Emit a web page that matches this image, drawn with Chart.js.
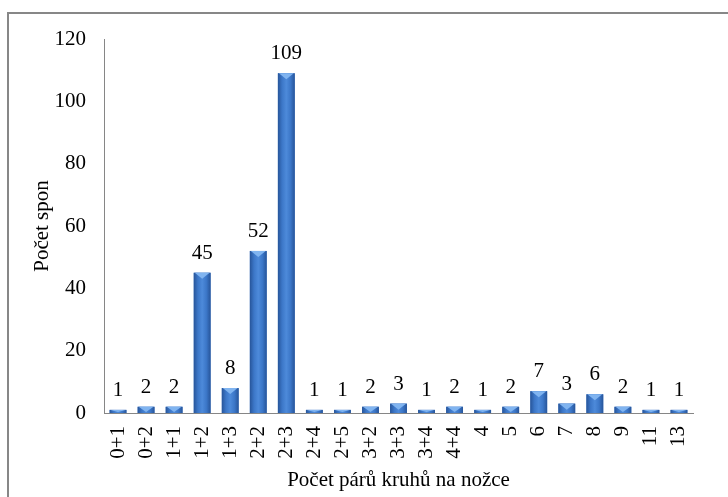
<!DOCTYPE html>
<html>
<head>
<meta charset="utf-8">
<script src="https://cdn.jsdelivr.net/npm/chart.js@4"></script>
<style>
  html, body { margin: 0; padding: 0; background: #fff; overflow: hidden; }
  #wrap { position: relative; width: 728px; height: 497px; }
  #frame {
    position: absolute; left: 7px; top: 12px; width: 800px; height: 600px;
    border: 2px solid #878787; box-sizing: border-box;
  }
  canvas { position: absolute; left: 0; top: 0; }
</style>
</head>
<body>
<div id="wrap">
  <div id="frame"></div>
  <canvas id="chart" width="728" height="497"></canvas>
</div>
<script>
// Data
const categories = ["0+1", "0+2", "1+1", "1+2", "1+3", "2+2", "2+3", "2+4", "2+5", "3+2", "3+3",
  "3+4", "4+4", "4", "5", "6", "7", "8", "9", "11", "13"];
const counts = [1, 2, 2, 45, 8, 52, 109, 1, 1, 2, 3, 1, 2, 1, 2, 7, 3, 6, 2, 1, 1];
const yMax = 120;
const yStep = 20;

const FONT = "'Liberation Serif', 'Times New Roman', serif";
const FONT_SIZE = 21;

// Shaded bars with a light bevel on top, plus value labels
const barStyle = {
  id: "barStyle",
  afterDatasetsDraw(chart) {
    const ctx = chart.ctx;
    const meta = chart.getDatasetMeta(0);
    ctx.save();
    meta.data.forEach((bar, i) => {
      const left = bar.x - bar.width / 2;
      const right = bar.x + bar.width / 2;
      const top = bar.y;
      const bottom = bar.base;
      const h = bottom - top;

      const grad = ctx.createLinearGradient(left, 0, right, 0);
      grad.addColorStop(0, "#27559a");
      grad.addColorStop(0.25, "#3c77c8");
      grad.addColorStop(0.5, "#4d8ada");
      grad.addColorStop(0.75, "#3c77c8");
      grad.addColorStop(1, "#27559a");
      ctx.fillStyle = grad;
      ctx.fillRect(left, top, bar.width, h);

      // light bevel triangle on top
      const th = Math.min(6, Math.max(h - 1, 1));
      ctx.fillStyle = "#80b4f0";
      ctx.beginPath();
      ctx.moveTo(left + 1, top);
      ctx.lineTo(right - 1, top);
      ctx.lineTo(bar.x, top + th);
      ctx.closePath();
      ctx.fill();

      // value label
      ctx.fillStyle = "#000";
      ctx.font = FONT_SIZE + "px " + FONT;
      ctx.textAlign = "center";
      ctx.textBaseline = "alphabetic";
      ctx.fillText(String(counts[i]), bar.x, top - 14);
    });
    ctx.restore();
  }
};

new Chart(document.getElementById("chart"), {
  type: "bar",
  data: {
    labels: categories,
    datasets: [
      {
        data: counts,
        backgroundColor: "#3c77c8",
        borderWidth: 0,
        barPercentage: 0.6,
        categoryPercentage: 1.0,
      },
    ],
  },
  options: {
    responsive: false,
    animation: false,
    devicePixelRatio: 1,
    layout: {
      padding: { left: 8, right: 35, top: 39, bottom: 0 },
    },
    plugins: {
      legend: { display: false },
      tooltip: { enabled: false },
    },
    scales: {
      x: {
        grid: { display: false, drawTicks: false },
        border: { display: true, color: "#868686", width: 1 },
        ticks: {
          color: "#000",
          font: { family: FONT, size: FONT_SIZE },
          minRotation: 90,
          maxRotation: 90,
          padding: 13,
          autoSkip: false,
        },
        title: {
          display: true,
          text: "Počet párů kruhů na nožce",
          color: "#000",
          font: { family: FONT, size: FONT_SIZE },
          padding: { top: 0, bottom: 4 },
        },
        afterFit(scale) {
          scale.height = 84;
        },
      },
      y: {
        min: 0,
        max: yMax,
        grid: { display: false, drawTicks: false },
        border: { display: true, color: "#868686", width: 1 },
        ticks: {
          stepSize: yStep,
          color: "#000",
          font: { family: FONT, size: FONT_SIZE },
          padding: 18,
        },
        title: {
          display: true,
          text: "Počet spon",
          color: "#000",
          font: { family: FONT, size: FONT_SIZE },
          padding: { top: 22, bottom: 0 },
        },
        afterFit(scale) {
          scale.width = 96;
        },
      },
    },
  },
  plugins: [barStyle],
});
</script>
</body>
</html>
